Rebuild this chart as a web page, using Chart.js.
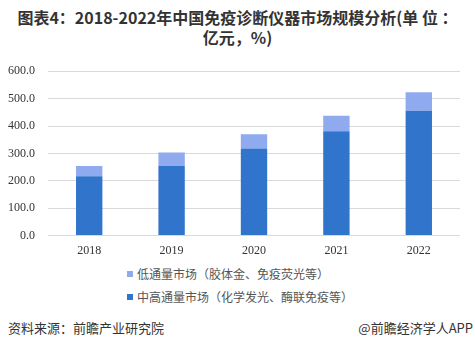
<!DOCTYPE html>
<html><head><meta charset="utf-8">
<script src="https://cdn.jsdelivr.net/npm/chart.js@4/dist/chart.umd.min.js"></script>
<style>
html,body{margin:0;padding:0;background:#fff;}
#wrap{position:relative;width:475px;height:351px;overflow:hidden;background:#fff;}
#title{position:absolute;left:0;top:7px;width:475px;text-align:center;font-family:"Noto Sans CJK SC",sans-serif;font-weight:bold;font-size:16px;line-height:20px;color:#333;}
#cv{position:absolute;left:0;top:51px;}
#legend{position:absolute;left:127px;top:262px;font-family:"Noto Sans CJK SC",sans-serif;font-size:12px;color:#555;}
#legend div{height:23px;line-height:18px;display:flex;align-items:center;}
#legend span.sw{display:inline-block;width:6px;height:6px;margin-right:4px;}
#src{position:absolute;left:8px;top:318px;font-family:"Noto Sans CJK SC",sans-serif;font-size:13px;color:#333;}
#app{position:absolute;right:2px;top:318px;font-family:"Noto Sans CJK SC",sans-serif;font-size:13px;color:#333;}
</style></head>
<body><div id="wrap">
<div id="title">图表4：2018-2022年中国免疫诊断仪器市场规模分析(单 位 ：<br>亿元，%)</div>
<canvas id="cv" width="475" height="207"></canvas>
<div id="legend"></div>
<div id="src">资料来源：前瞻产业研究院</div>
<div id="app">@前瞻经济学人APP</div>
</div>
<script>
const categories = ["2018","2019","2020","2021","2022"];
const midHighValues = [217, 254, 318, 381, 456];
const lowValues = [37, 49, 52, 56, 67];
const seriesNames = ["中高通量市场（化学发光、酶联免疫等）","低通量市场（胶体金、免疫荧光等）"];
const yTicks = [0,100,200,300,400,500,600];

const colors = {mid:"#3174CC", low:"#8FAAEE"};

const chart = new Chart(document.getElementById('cv'), {
  type:'bar',
  data:{labels:categories, datasets:[
    {label:seriesNames[0], data:midHighValues, backgroundColor:colors.mid, barPercentage:0.32, categoryPercentage:1},
    {label:seriesNames[1], data:lowValues, backgroundColor:colors.low, barPercentage:0.32, categoryPercentage:1}
  ]},
  options:{
    responsive:false, animation:false,
    layout:{padding:{left:-5,right:15,top:2,bottom:0}},
    plugins:{legend:{display:false}, title:{display:false}, tooltip:{enabled:false}},
    scales:{
      x:{stacked:true, grid:{display:false}, border:{display:false},
         ticks:{color:"#333", font:{family:"Liberation Serif", size:12}, padding:0}},
      y:{stacked:true, min:0, max:600, afterBuildTicks:(ax)=>{ax.ticks=yTicks.map(v=>({value:v}));},
         grid:{color:"#d9d9d9", lineWidth:1, drawTicks:false}, border:{display:false},
         ticks:{color:"#333", font:{family:"Liberation Serif", size:12}, padding:13, callback:(v)=>Number(v).toFixed(1)}}
    }
  }
});

const lg = document.getElementById('legend');
[[seriesNames[1],colors.low],[seriesNames[0],colors.mid]].forEach(([n,c])=>{
  const d=document.createElement('div');
  d.innerHTML='<span class="sw" style="background:'+c+'"></span>'+n;
  lg.appendChild(d);
});
</script>
</body></html>
